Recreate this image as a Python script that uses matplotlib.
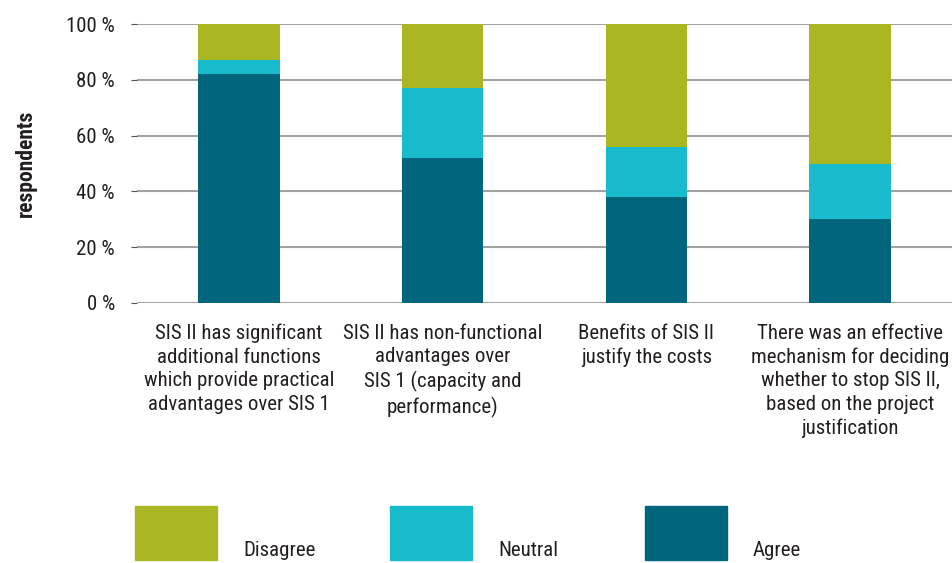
import matplotlib
matplotlib.use("Agg")
import matplotlib.pyplot as plt
from matplotlib import font_manager
from matplotlib.patches import Rectangle

categories = [
    "SIS II has significant\nadditional functions\nwhich provide practical\nadvantages over SIS 1",
    "SIS II has non-functional\nadvantages over\nSIS 1 (capacity and\nperformance)",
    "Benefits of SIS II\njustify the costs",
    "There was an effective\nmechanism for deciding\nwhether to stop SIS II,\nbased on the project\njustification",
]
agree = [82, 52, 38, 30]
neutral = [5, 25, 18, 20]
disagree = [13, 23, 44, 50]
yticks = [0, 20, 40, 60, 80, 100]

c_agree = "#00667E"
c_neutral = "#17BBCC"
c_disagree = "#AAB722"

# look for a condensed face, like the original's typeface
fonts = font_manager.fontManager.ttflist
names = {f.name for f in fonts}
cond = [f.name for f in fonts if str(f.stretch) in ("condensed", "semi-condensed", "extra-condensed")]
fam, stretch, fs = "Liberation Sans", "normal", 12.5
for cand in ["Liberation Sans Narrow", "Roboto Condensed", "Open Sans Condensed", "Noto Sans Condensed"]:
    if cand in names:
        fam, stretch, fs = cand, "normal", 15
        break
else:
    if cond:
        fam, stretch, fs = cond[0], "condensed", 15

plt.rcParams["font.family"] = [fam, "DejaVu Sans"]
plt.rcParams["font.stretch"] = stretch

fig = plt.figure(figsize=(9.52, 5.63), dpi=100)
ax = fig.add_axes([137 / 952, 260 / 563, 815 / 952, 279 / 563])

x = range(len(categories))
bottom2 = [a + n for a, n in zip(agree, neutral)]
ax.bar(x, agree, width=0.4, color=c_agree, zorder=3)
ax.bar(x, neutral, width=0.4, bottom=agree, color=c_neutral, zorder=3)
ax.bar(x, disagree, width=0.4, bottom=bottom2, color=c_disagree, zorder=3)

ax.set_xlim(-0.5, 3.5)
ax.set_ylim(0, 100)
ax.set_yticks(yticks)
ax.set_yticklabels([f"{v} %" for v in yticks], fontsize=fs, color="#231f20")
ax.yaxis.grid(True, color="#a3a3a3", linewidth=1.5, zorder=0)
ax.set_axisbelow(True)
ax.tick_params(axis="y", length=4, color="#555555", pad=12)
ax.set_xticks(list(x))
ax.set_xticklabels(categories, fontsize=fs, color="#231f20", linespacing=1.3)
ax.tick_params(axis="x", length=0, pad=15)
for s in ax.spines.values():
    s.set_visible(False)

ax.set_ylabel("respondents", fontsize=fs + 0.5, fontweight="bold", color="#231f20", labelpad=21)

# legend drawn by hand: square patch, label sitting low to its right
labels = ["Disagree", "Neutral", "Agree"]
colors = [c_disagree, c_neutral, c_agree]
W, H = 952, 563
for i, (lab, col) in enumerate(zip(labels, colors)):
    x0 = 135 + i * 255
    fig.add_artist(Rectangle((x0 / W, (H - 560) / H), 82 / W, 54 / H,
                             transform=fig.transFigure, color=col))
    fig.text((x0 + 108) / W, (H - 556) / H, lab, fontsize=fs, color="#231f20",
             ha="left", va="baseline")

fig.savefig("out.png", dpi=100)
